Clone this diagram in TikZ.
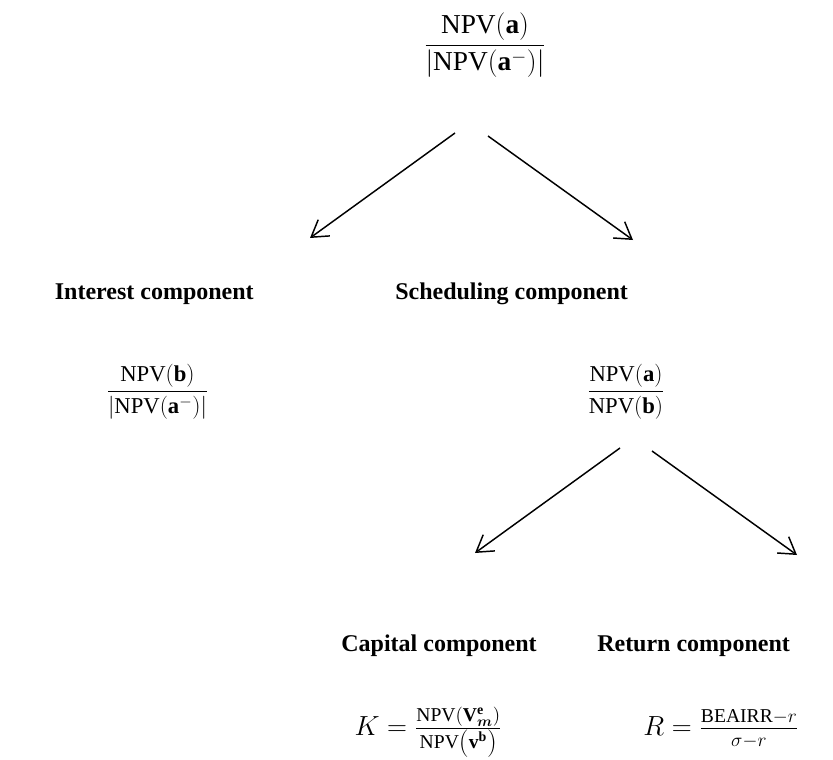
\documentclass[tikz,border=0pt]{standalone}
\usepackage{amsmath}
\usepackage{fontspec}
\setmainfont{Liberation Serif}
\usetikzlibrary{arrows.meta}
\newcommand{\upnum}[1]{\raisebox{1.5pt}{$\scriptstyle #1$}}
\newcommand{\dnden}[1]{\raisebox{-1.5pt}{$\scriptstyle #1$}}
\begin{document}
\begin{tikzpicture}[x=0.75pt,y=-0.75pt,
  lab/.style={inner sep=0pt,font=\fontsize{18}{21}\selectfont\bfseries},
  eqtop/.style={inner sep=0pt,font=\fontsize{20.5}{24}\selectfont},
  eqmid/.style={inner sep=0pt,font=\fontsize{17}{20}\selectfont},
  eqlow/.style={inner sep=0pt,font=\fontsize{21}{25}\selectfont},
  arr/.style={line width=1.1pt,-{Straight Barb[length=12pt,width=15pt,line width=1.1pt]}}]
\useasboundingbox (0,0) rectangle (833,760);
% top fraction
\node[eqtop,anchor=base] (top) at (485,52)
  {$\displaystyle\frac{\mathrm{NPV}(\mathbf{a})}{|\mathrm{NPV}(\mathbf{a}^{-})|}$};
% first arrows
\coordinate (a1s) at (455,133); \coordinate (a1e) at (310,238);
\coordinate (a2s) at (488,136); \coordinate (a2e) at (633,240);
\draw[arr] (a1s) -- (a1e);
\draw[arr] (a2s) -- (a2e);
% second row labels
\node[lab,anchor=base east] (interest) at (254,299) {Interest component};
\node[lab,anchor=base west] (sched) at (395,299) {Scheduling component};
% second row fractions
\node[eqmid,anchor=base] (fint) at (157.5,397.5)
  {$\displaystyle\frac{\mathrm{NPV}(\mathbf{b})}{|\mathrm{NPV}(\mathbf{a}^{-})|}$};
\node[eqmid,anchor=base west] (fsch) at (587,397.5)
  {$\displaystyle\frac{\mathrm{NPV}(\mathbf{a})}{\mathrm{NPV}(\mathbf{b})}$};
% second arrows
\coordinate (b1s) at (620,448); \coordinate (b1e) at (475,553);
\coordinate (b2s) at (652,451); \coordinate (b2e) at (797,555);
\draw[arr] (b1s) -- (b1e);
\draw[arr] (b2s) -- (b2e);
% third row labels
\node[lab,anchor=base east] (capital) at (537,651) {Capital component};
\node[lab,anchor=base west] (return) at (597,651) {Return component};
% third row formulas
\node[eqlow,anchor=base east] (fk) at (502,735)
  {$K=\frac{\upnum{\mathrm{NPV}(\mathbf{V}^{\mathbf{e}}_{\boldsymbol{m}})}}{\dnden{\mathrm{NPV}\left(\mathbf{v}^{\mathbf{b}}\right)}}$};
\node[eqlow,anchor=base west] (fr) at (643,735)
  {$R=\frac{\upnum{\mathrm{BEAIRR}{-}r}}{\dnden{\sigma{-}r}}$};
\end{tikzpicture}
\end{document}
